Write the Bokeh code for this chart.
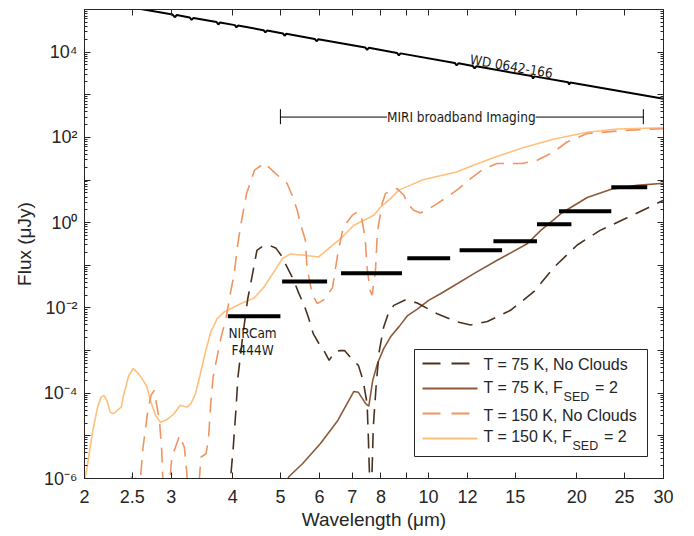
import numpy as np
from bokeh.plotting import figure
from bokeh.models import (FixedTicker, LogAxis, CustomJSTickFormatter, Label,
                          BoxAnnotation, Range1d)
from bokeh.embed import file_html
from bokeh.resources import INLINE

# ---------------- data ----------------
# WD 0642-166 photosphere (with small absorption dips)
wd_wave = [2.55, 3.02, 3.05, 3.08, 3.27, 3.3, 3.33, 3.71, 3.74, 3.77, 4.04, 4.07, 4.10,
           4.62, 4.66, 4.70, 5.06, 5.1, 5.14, 5.87, 5.92, 5.97, 7.44, 7.5, 7.56,
           8.63, 8.7, 8.77, 11.3, 11.4, 11.5, 12.3, 12.4, 12.5, 16.2, 16.3, 16.4,
           19.2, 19.3, 19.4, 30.0]
wd_flux = [1.07e5, 7.6e4, 6.6e4, 7.4e4, 6.5e4, 5.7e4, 6.35e4, 5.07e4, 4.45e4, 4.97e4,
           4.3e4, 3.8e4, 4.2e4, 3.28e4, 2.9e4, 3.22e4, 2.75e4, 2.42e4, 2.7e4,
           2.04e4, 1.8e4, 2.0e4, 1.28e4, 1.13e4, 1.26e4, 9.55e3, 8.4e3, 9.35e3,
           5.57e3, 4.9e3, 5.47e3, 4.72e3, 4.15e3, 4.64e3, 2.74e3, 2.42e3, 2.7e3,
           1.96e3, 1.74e3, 1.94e3, 8.1e2]

# T = 150 K, F_SED = 2
t150_fsed_wave = [2.0, 2.025, 2.073, 2.126, 2.16, 2.19, 2.22, 2.255, 2.29, 2.35, 2.375,
                  2.405, 2.46, 2.51, 2.56, 2.62, 2.68, 2.72, 2.79, 2.85, 2.94, 3.04,
                  3.13, 3.23, 3.29, 3.36, 3.44, 3.52, 3.61, 3.72, 3.84, 3.96, 4.15,
                  4.42, 4.63, 4.85, 5.05, 5.24, 5.58, 5.98, 6.32, 6.68, 7.05, 7.39,
                  7.74, 7.99, 8.37, 8.7, 9.19, 9.7, 10.5, 11.4, 12.3, 13.8, 15.6,
                  18.0, 21.0, 24.1, 30.0]
t150_fsed_flux = [9e-7, 1.85e-6, 1.12e-5, 4.7e-5, 8.1e-5, 8.9e-5, 6.8e-5, 3.6e-5, 3.3e-5,
                  4.3e-5, 4.7e-5, 9.7e-5, 2.6e-4, 3.76e-4, 3.1e-4, 2.2e-4, 1.39e-4,
                  6.8e-5, 3.0e-5, 2.1e-5, 2.4e-5, 3.3e-5, 5.2e-5, 4.7e-5, 5.7e-5,
                  9.7e-5, 2.9e-4, 9.2e-4, 2.7e-3, 5.6e-3, 8.0e-3, 9.6e-3, 0.0126,
                  0.017, 0.031, 0.07, 0.145, 0.185, 0.172, 0.157, 0.27, 0.46, 0.87,
                  1.14, 1.49, 2.34, 3.67, 5.8, 7.6, 10.0, 12.5, 15.5, 22.0, 36.0,
                  58.0, 92.0, 132.0, 158.0, 168.0]

# T = 150 K, No Clouds
t150_nc_wave = [2.47, 2.5, 2.54, 2.57, 2.6, 2.63, 2.69, 2.73, 2.77, 2.80, 2.84, 2.87,
                2.885, 2.93, 2.98, 3.01, 3.06, 3.12, 3.19, 3.22, 3.235, 3.32, 3.42,
                3.45, 3.53, 3.57, 3.61, 3.65, 3.73, 3.79, 3.88, 3.95, 4.03, 4.09,
                4.17, 4.27, 4.43, 4.64, 4.89, 5.16, 5.28, 5.41, 5.49, 5.62, 5.66,
                5.80, 5.94, 6.15, 6.38, 6.54, 6.71, 7.0, 7.18, 7.3, 7.43, 7.5, 7.6,
                7.68, 7.8, 7.87, 8.05, 8.17, 8.45, 8.63, 8.91, 9.05, 9.33, 9.6, 9.78,
                10.41, 10.91, 11.52, 12.17, 12.95, 13.78, 15.49, 16.62, 17.96, 19.1,
                21.0, 23.05, 25.7, 30.0]
t150_nc_flux = [5e-7, 1.35e-6, 1.0e-6, 6e-7, 1.1e-6, 5.4e-6, 3.95e-5, 8.9e-5, 1.16e-4,
                5.7e-5, 2.3e-5, 4.5e-6, 9e-7, 1e-7, 9e-7, 3.2e-6, 5.4e-6, 1.02e-5,
                5.4e-6, 1.85e-6, 9e-7, 1e-7, 9e-7, 3.2e-6, 3.8e-6, 7.8e-6, 6e-5,
                2.4e-4, 8.5e-4, 2.1e-3, 6e-3, 0.02, 0.065, 0.28, 1.14, 4.9, 17.0,
                25.0, 14.2, 8.3, 4.4, 1.95, 0.95, 0.386, 0.091, 0.0216, 0.0126,
                0.016, 0.03, 0.19, 0.78, 1.5, 1.8, 1.4, 0.45, 0.09, 0.026, 0.02,
                0.076, 0.6, 2.85, 4.8, 6.0, 6.3, 4.4, 2.8, 1.95, 1.7, 1.79, 2.8,
                4.0, 6.3, 10.8, 18.6, 24.4, 24.4, 29.2, 45.7, 78.0, 123.0, 135.0,
                148.0, 160.0]

# T = 75 K, No Clouds
t75_nc_wave = [3.9, 3.96, 4.01, 4.06, 4.10, 4.19, 4.29, 4.39, 4.48, 4.6, 4.75, 4.9,
               5.02, 5.32, 5.45, 5.58, 5.7, 5.83, 6.0, 6.13, 6.28, 6.44, 6.6, 6.75,
               6.96, 7.2, 7.36, 7.5, 7.54, 7.58, 7.63, 7.68, 7.72, 7.83, 7.93, 8.1,
               8.3, 8.5, 8.98, 9.48, 10.41, 11.43, 12.17, 13.16, 14.66, 16.36, 18.0,
               20.04, 22.3, 25.3, 30.0]
t75_nc_flux = [1e-7, 1.0e-6, 5.3e-6, 3.95e-5, 2.4e-4, 2.1e-3, 0.016, 0.064, 0.225, 0.28,
               0.295, 0.25, 0.17, 0.045, 0.022, 0.012, 0.006, 0.0025, 0.0014, 1.0e-3,
               5.9e-4, 9.1e-4, 1.0e-3, 1.0e-3, 6.6e-4, 4.5e-4, 2e-4, 5.7e-5, 1.1e-5,
               1.5e-6, 3e-7, 1.8e-6, 1.6e-5, 1.7e-4, 9e-4, 3.5e-3, 8e-3, 0.0115,
               0.0156, 0.0131, 7.3e-3, 4.7e-3, 4.0e-3, 4.8e-3, 8.8e-3, 0.024, 0.091,
               0.3, 0.66, 1.3, 3.36]

# T = 75 K, F_SED = 2
t75_fsed_wave = [5.1, 5.2, 5.55, 6.03, 6.54, 7.05, 7.2, 7.45, 7.56, 7.7, 7.87, 8.1,
                 8.37, 8.7, 9.05, 9.5, 10.0, 10.57, 11.43, 12.36, 13.78, 15.86, 16.9,
                 18.6, 21.0, 23.5, 26.5, 30.0]
t75_fsed_flux = [6e-7, 1.1e-6, 2.25e-6, 6.6e-6, 2.3e-5, 1.1e-4, 1.05e-4, 5.7e-5, 5.0e-5,
                 2.0e-4, 4.9e-4, 1.1e-3, 2.1e-3, 3.6e-3, 6.5e-3, 9.5e-3, 0.0151,
                 0.0216, 0.037, 0.064, 0.131, 0.32, 0.66, 1.66, 3.9, 6.1, 7.5, 8.4]

# photometric sensitivity bars (NIRCam F444W + MIRI filters)
bar_wave_lo = [3.91, 5.04, 6.64, 9.05, 11.56, 13.54, 16.6, 18.4, 23.5]
bar_wave_hi = [5.0, 6.22, 8.83, 11.06, 14.1, 16.6, 19.5, 23.5, 27.8]
bar_flux = [0.0064, 0.042, 0.065, 0.146, 0.225, 0.366, 0.92, 1.85, 6.8]

# MIRI broadband range bracket
miri_wave = [5.0, 27.3]
miri_flux = 300.0
miri_cap = [204.0, 459.0]

x_ticks = [2, 2.5, 3, 4, 5, 6, 7, 8, 9, 10, 12, 15, 20, 25, 30]
y_decades = list(range(-6, 6))

# ---------------- styling ----------------
C75N = "#4a3121"
C75F = "#8c5a3a"
C150N = "#ef9563"
C150F = "#fec07a"
AX = "#262626"
DASH = "15 9"
FONT = "Liberation Sans"
NOTE_FONT = "DejaVu Sans Condensed, DejaVu Sans"

X_MIN, X_MAX = 2.0, 30.0
Y_MIN, Y_MAX = 1e-6, 1e5
FW, FH = 579, 469


def fx(px):
    """frame pixel (from left) -> wavelength"""
    return X_MIN * (X_MAX / X_MIN) ** (px / FW)


def fy(py):
    """frame pixel (from top) -> flux"""
    return Y_MAX * (Y_MIN / Y_MAX) ** (py / FH)


p = figure(x_axis_type="log", y_axis_type="log",
           x_range=Range1d(X_MIN, X_MAX), y_range=Range1d(Y_MIN, Y_MAX),
           frame_width=FW, frame_height=FH,
           output_backend="svg", toolbar_location=None,
           min_border_left=84, min_border_right=18, min_border_top=9,
           min_border_bottom=30)
p.xgrid.visible = False
p.ygrid.visible = False
p.outline_line_color = AX
p.background_fill_color = "white"
p.border_fill_color = "white"

xt = FixedTicker(ticks=x_ticks, minor_ticks=[])
yt = FixedTicker(ticks=[10.0 ** k for k in y_decades],
                 minor_ticks=[m * 10.0 ** k for k in y_decades[:-1] for m in range(2, 10)])

xfmt = CustomJSTickFormatter(code="if (Math.abs(tick - 9) < 1e-9) { return ''; } return String(tick);")
yfmt = CustomJSTickFormatter(code="""
const e = Math.round(Math.log10(tick));
if (e % 2 !== 0) { return ""; }
const sup = {"-": "\u207b", "0": "\u2070", "1": "\u00b9", "2": "\u00b2", "3": "\u00b3",
             "4": "\u2074", "5": "\u2075", "6": "\u2076", "7": "\u2077", "8": "\u2078", "9": "\u2079"};
let s = "";
for (const c of String(e)) { s += sup[c]; }
return "10" + s;
""")
blank = CustomJSTickFormatter(code="return '';")


def style_axis(ax):
    ax.axis_line_color = AX
    ax.major_tick_line_color = AX
    ax.minor_tick_line_color = AX
    ax.major_tick_in = 6
    ax.major_tick_out = 0
    ax.minor_tick_in = 3
    ax.minor_tick_out = 0
    ax.major_label_text_font = FONT
    ax.major_label_text_color = AX
    ax.axis_label_text_font = FONT
    ax.axis_label_text_color = AX
    ax.axis_label_text_font_style = "normal"


xa = p.xaxis[0]
xa.ticker = xt
xa.formatter = xfmt
style_axis(xa)
xa.major_label_text_font_size = "18px"
xa.major_label_standoff = 11
xa.axis_label = "Wavelength (μm)"
xa.axis_label_text_font_size = "19px"
xa.axis_label_standoff = 3

ya = p.yaxis[0]
ya.ticker = yt
ya.formatter = yfmt
style_axis(ya)
ya.major_label_text_font_size = "18px"
ya.major_label_standoff = 7
ya.axis_label = "Flux (μJy)"
ya.axis_label_text_font_size = "19px"
ya.axis_label_standoff = 6

for loc, tk in (("above", xt), ("right", yt)):
    ax = LogAxis(ticker=tk, formatter=blank)
    style_axis(ax)
    ax.major_label_text_font_size = "0px"
    ax.major_label_standoff = 0
    p.add_layout(ax, loc)

# ---------------- curves ----------------
p.line(wd_wave, wd_flux, line_color="black", line_width=2)
p.line(t150_fsed_wave, t150_fsed_flux, line_color=C150F, line_width=1.6)
p.line(t150_nc_wave, t150_nc_flux, line_color=C150N, line_width=1.6, line_dash=DASH)
p.line(t75_fsed_wave, t75_fsed_flux, line_color=C75F, line_width=1.6)
p.line(t75_nc_wave, t75_nc_flux, line_color=C75N, line_width=1.6, line_dash=DASH)

p.segment(x0=bar_wave_lo, x1=bar_wave_hi, y0=bar_flux, y1=bar_flux,
          line_color="black", line_width=4, line_cap="butt")

# MIRI bracket
p.segment(x0=[miri_wave[0]], x1=[miri_wave[1]], y0=[miri_flux], y1=[miri_flux],
          line_color="black", line_width=1)
p.segment(x0=miri_wave, x1=miri_wave, y0=[miri_cap[0]] * 2, y1=[miri_cap[1]] * 2,
          line_color="black", line_width=1)

p.add_layout(Label(x=11.65, y=miri_flux, text="MIRI broadband Imaging",
                   text_align="center", text_baseline="middle",
                   text_font=NOTE_FONT, text_font_size="13.5px", text_color="#1a1a1a",
                   background_fill_color="white", background_fill_alpha=1.0))

p.add_layout(Label(x=14.73, y=4690, text="WD 0642-166", angle=-0.1707,
                   text_align="center", text_baseline="middle",
                   text_font=NOTE_FONT, text_font_size="13.5px", text_color="#1a1a1a"))

p.add_layout(Label(x=4.39, y=2.54e-3, text="NIRCam", text_align="center",
                   text_baseline="middle", text_font=NOTE_FONT, text_font_size="13.5px",
                   text_color="#1a1a1a"))
p.add_layout(Label(x=4.39, y=1.01e-3, text="F444W", text_align="center",
                   text_baseline="middle", text_font=NOTE_FONT, text_font_size="13.5px",
                   text_color="#1a1a1a"))

# ---------------- legend (hand-built so F_SED can carry a subscript) ----------------
p.add_layout(BoxAnnotation(left=fx(330), right=fx(563), top=fy(340), bottom=fy(447),
                           fill_color="white", fill_alpha=1.0,
                           line_color=AX, line_width=1, line_alpha=1.0))

legend_rows = [
    ("T = 75 K, No Clouds", None, C75N, "18 11", 354, 355, 0),
    ("T = 75 K, F", "= 2", C75F, "solid", 379, 378, 79.6),
    ("T = 150 K, No Clouds", None, C150N, "18 11", 404, 406, 0),
    ("T = 150 K, F", "= 2", C150F, "solid", 429, 426.5, 88.5),
]
for main, tail, col, dash, sy, ty, w in legend_rows:
    r = p.segment(x0=[fx(338)], x1=[fx(393)], y0=[fy(sy)], y1=[fy(sy)],
                  line_color=col, line_width=1.8, line_dash=dash)
    r.level = "overlay"
    p.add_layout(Label(x=fx(399), y=fy(ty), text=main, text_align="left",
                       text_baseline="middle", text_font=FONT, text_font_size="16px",
                       text_color=AX, level="overlay"))
    if tail:
        p.add_layout(Label(x=fx(399), y=fy(ty + 9.5), x_offset=w + 0.5, text="SED",
                           text_align="left", text_baseline="middle", text_font=FONT,
                           text_font_size="12.5px", text_color=AX, level="overlay"))
        p.add_layout(Label(x=fx(399), y=fy(ty), x_offset=w + 32, text=tail,
                           text_align="left", text_baseline="middle", text_font=FONT,
                           text_font_size="16px", text_color=AX, level="overlay"))

open("out.html", "w").write(file_html(p, INLINE))
